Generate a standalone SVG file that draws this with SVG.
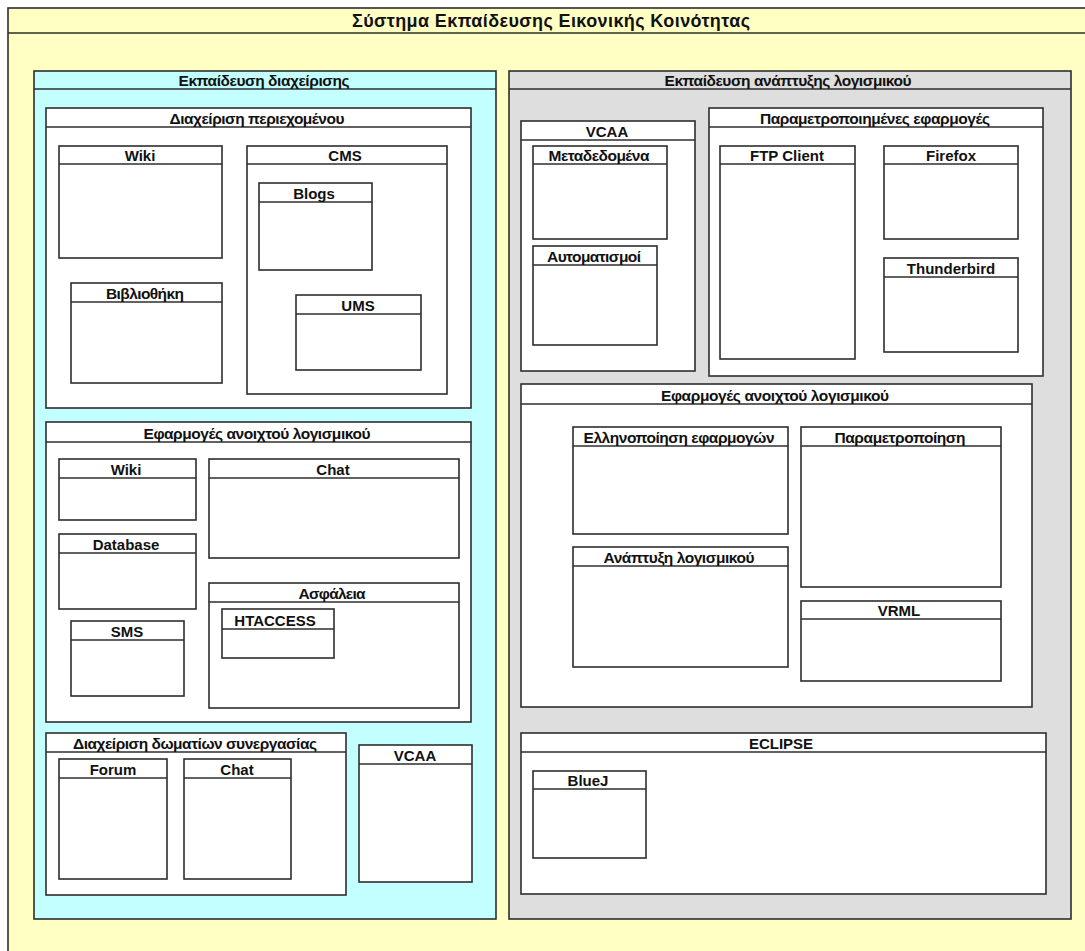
<svg xmlns="http://www.w3.org/2000/svg" width="1085" height="951" viewBox="0 0 1085 951">
  <style>
    .page { fill: #ffffff; }
    .frame { fill: #ffffc4; stroke: #2e2e2e; stroke-width: 1.6; }
    .mgmt { fill: #c4ffff; stroke: #2e2e2e; stroke-width: 1.6; }
    .dev { fill: #dedede; stroke: #2e2e2e; stroke-width: 1.6; }
    .box { fill: #ffffff; stroke: #2e2e2e; stroke-width: 1.6; }
    .sep { stroke: #2e2e2e; stroke-width: 1.6; }
    text { font-family: "Liberation Sans", Arial, sans-serif; font-weight: bold; fill: #111111; text-anchor: middle; }
    .lbl { font-size: 15px; }
    .gr { font-size: 15.5px; }
    .title { font-size: 18px; }
  </style>

  <rect class="page" x="0" y="0" width="1085" height="951"/>

  <!-- outer system frame -->
  <g id="system">
    <rect class="frame" x="8" y="8" width="1100" height="960"/>
    <line class="sep" x1="8" y1="33" x2="1085" y2="33"/>
    <text class="title" x="551" y="27" textLength="398">Σύστημα Εκπαίδευσης Εικονικής Κοινότητας</text>
  </g>

  <!-- left package: management training -->
  <g id="mgmt-training">
    <rect class="mgmt" x="34" y="71" width="462" height="848"/>
    <line class="sep" x1="34" y1="89" x2="496" y2="89"/>
    <text class="gr" x="264" y="86" textLength="171">Εκπαίδευση διαχείρισης</text>
  </g>

  <g id="content-mgmt">
    <rect class="box" x="46" y="108" width="425" height="300"/>
    <line class="sep" x1="46" y1="127" x2="471" y2="127"/>
    <text class="gr" x="257" y="124" textLength="175">Διαχείριση περιεχομένου</text>
  </g>
  <g id="wiki-content">
    <rect class="box" x="59" y="146" width="163" height="112"/>
    <line class="sep" x1="59" y1="164" x2="222" y2="164"/>
    <text class="lbl" x="140" y="161">Wiki</text>
  </g>
  <g id="cms">
    <rect class="box" x="247" y="146" width="200" height="248"/>
    <line class="sep" x1="247" y1="164" x2="447" y2="164"/>
    <text class="lbl" x="345" y="161">CMS</text>
  </g>
  <g id="blogs">
    <rect class="box" x="259" y="183" width="113" height="87"/>
    <line class="sep" x1="259" y1="202" x2="372" y2="202"/>
    <text class="lbl" x="314" y="199">Blogs</text>
  </g>
  <g id="library">
    <rect class="box" x="71" y="283" width="151" height="100"/>
    <line class="sep" x1="71" y1="302" x2="222" y2="302"/>
    <text class="gr" x="145" y="299" textLength="78">Βιβλιοθήκη</text>
  </g>
  <g id="ums">
    <rect class="box" x="296" y="295" width="125" height="75"/>
    <line class="sep" x1="296" y1="314" x2="421" y2="314"/>
    <text class="lbl" x="358" y="311">UMS</text>
  </g>

  <g id="oss-mgmt">
    <rect class="box" x="46" y="422" width="425" height="300"/>
    <line class="sep" x1="46" y1="442" x2="471" y2="442"/>
    <text class="gr" x="257" y="439" textLength="227">Εφαρμογές ανοιχτού λογισμικού</text>
  </g>
  <g id="wiki-oss">
    <rect class="box" x="59" y="459" width="137" height="61"/>
    <line class="sep" x1="59" y1="478" x2="196" y2="478"/>
    <text class="lbl" x="126" y="475">Wiki</text>
  </g>
  <g id="chat-oss">
    <rect class="box" x="209" y="459" width="250" height="99"/>
    <line class="sep" x1="209" y1="478" x2="459" y2="478"/>
    <text class="lbl" x="333" y="475">Chat</text>
  </g>
  <g id="database">
    <rect class="box" x="59" y="534" width="137" height="75"/>
    <line class="sep" x1="59" y1="553" x2="196" y2="553"/>
    <text class="lbl" x="126" y="550">Database</text>
  </g>
  <g id="sms">
    <rect class="box" x="71" y="621" width="113" height="75"/>
    <line class="sep" x1="71" y1="640" x2="184" y2="640"/>
    <text class="lbl" x="127" y="637">SMS</text>
  </g>
  <g id="security">
    <rect class="box" x="209" y="583" width="250" height="125"/>
    <line class="sep" x1="209" y1="602" x2="459" y2="602"/>
    <text class="gr" x="332" y="599" textLength="67">Ασφάλεια</text>
  </g>
  <g id="htaccess">
    <rect class="box" x="222" y="609" width="112" height="49"/>
    <line class="sep" x1="222" y1="629" x2="334" y2="629"/>
    <text class="lbl" x="275" y="626">HTACCESS</text>
  </g>

  <g id="rooms">
    <rect class="box" x="46" y="733" width="300" height="162"/>
    <line class="sep" x1="46" y1="752" x2="346" y2="752"/>
    <text class="gr" x="195" y="749" textLength="244">Διαχείριση δωματίων συνεργασίας</text>
  </g>
  <g id="forum">
    <rect class="box" x="59" y="759" width="108" height="120"/>
    <line class="sep" x1="59" y1="778" x2="167" y2="778"/>
    <text class="lbl" x="113" y="775">Forum</text>
  </g>
  <g id="chat-rooms">
    <rect class="box" x="184" y="759" width="107" height="120"/>
    <line class="sep" x1="184" y1="778" x2="291" y2="778"/>
    <text class="lbl" x="237" y="775">Chat</text>
  </g>
  <g id="vcaa-mgmt">
    <rect class="box" x="359" y="745" width="113" height="137"/>
    <line class="sep" x1="359" y1="764" x2="472" y2="764"/>
    <text class="lbl" x="415" y="761">VCAA</text>
  </g>

  <!-- right package: software development training -->
  <g id="dev-training">
    <rect class="dev" x="509" y="71" width="562" height="848"/>
    <line class="sep" x1="509" y1="89" x2="1071" y2="89"/>
    <text class="gr" x="788" y="86" textLength="247">Εκπαίδευση ανάπτυξης λογισμικού</text>
  </g>

  <g id="vcaa-dev">
    <rect class="box" x="521" y="121" width="174" height="250"/>
    <line class="sep" x1="521" y1="140" x2="695" y2="140"/>
    <text class="lbl" x="607" y="137">VCAA</text>
  </g>
  <g id="metadata">
    <rect class="box" x="533" y="146" width="134" height="93"/>
    <line class="sep" x1="533" y1="164" x2="667" y2="164"/>
    <text class="gr" x="599" y="161" textLength="101">Μεταδεδομένα</text>
  </g>
  <g id="automation">
    <rect class="box" x="533" y="246" width="124" height="99"/>
    <line class="sep" x1="533" y1="265" x2="657" y2="265"/>
    <text class="gr" x="594" y="262" textLength="94">Αυτοματισμοί</text>
  </g>

  <g id="custom-apps">
    <rect class="box" x="709" y="108" width="334" height="268"/>
    <line class="sep" x1="709" y1="127" x2="1043" y2="127"/>
    <text class="gr" x="875" y="124" textLength="230">Παραμετροποιημένες εφαρμογές</text>
  </g>
  <g id="ftp-client">
    <rect class="box" x="720" y="146" width="135" height="213"/>
    <line class="sep" x1="720" y1="164" x2="855" y2="164"/>
    <text class="lbl" x="787" y="161">FTP Client</text>
  </g>
  <g id="firefox">
    <rect class="box" x="884" y="146" width="134" height="93"/>
    <line class="sep" x1="884" y1="164" x2="1018" y2="164"/>
    <text class="lbl" x="951" y="161">Firefox</text>
  </g>
  <g id="thunderbird">
    <rect class="box" x="884" y="258" width="134" height="94"/>
    <line class="sep" x1="884" y1="277" x2="1018" y2="277"/>
    <text class="lbl" x="951" y="274">Thunderbird</text>
  </g>

  <g id="oss-dev">
    <rect class="box" x="521" y="384" width="511" height="323"/>
    <line class="sep" x1="521" y1="404" x2="1032" y2="404"/>
    <text class="gr" x="775" y="401" textLength="228">Εφαρμογές ανοιχτού λογισμικού</text>
  </g>
  <g id="localisation">
    <rect class="box" x="573" y="427" width="215" height="107"/>
    <line class="sep" x1="573" y1="446" x2="788" y2="446"/>
    <text class="gr" x="679" y="443" textLength="191">Ελληνοποίηση εφαρμογών</text>
  </g>
  <g id="software-dev">
    <rect class="box" x="573" y="547" width="215" height="120"/>
    <line class="sep" x1="573" y1="566" x2="788" y2="566"/>
    <text class="gr" x="679" y="563" textLength="151">Ανάπτυξη λογισμικού</text>
  </g>
  <g id="customisation">
    <rect class="box" x="801" y="427" width="200" height="160"/>
    <line class="sep" x1="801" y1="446" x2="1001" y2="446"/>
    <text class="gr" x="900" y="443" textLength="131">Παραμετροποίηση</text>
  </g>
  <g id="vrml">
    <rect class="box" x="801" y="601" width="200" height="80"/>
    <line class="sep" x1="801" y1="619" x2="1001" y2="619"/>
    <text class="lbl" x="899" y="616">VRML</text>
  </g>

  <g id="eclipse">
    <rect class="box" x="521" y="733" width="525" height="161"/>
    <line class="sep" x1="521" y1="752" x2="1046" y2="752"/>
    <text class="lbl" x="781" y="749">ECLIPSE</text>
  </g>
  <g id="bluej">
    <rect class="box" x="533" y="771" width="113" height="87"/>
    <line class="sep" x1="533" y1="789" x2="646" y2="789"/>
    <text class="lbl" x="588" y="786">BlueJ</text>
  </g>

  <!-- nested packages only; no dependency arrows are drawn -->
  <g id="connectors"/>
</svg>
